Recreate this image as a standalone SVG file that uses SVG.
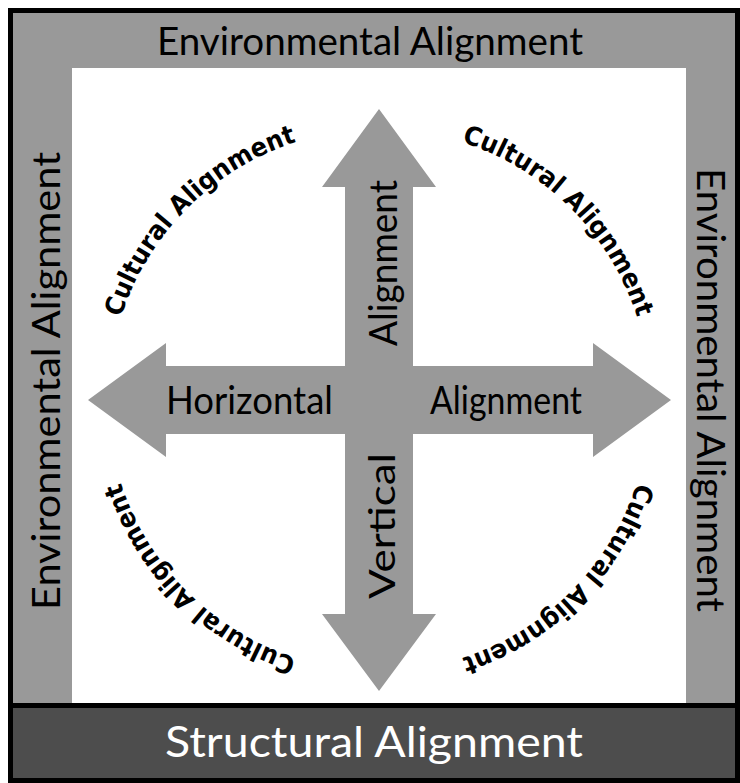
<svg xmlns="http://www.w3.org/2000/svg" xmlns:xlink="http://www.w3.org/1999/xlink" width="740" height="783" viewBox="0 0 740 783">
  <style>
    .lbl { font-family: Lato, "Liberation Sans", "DejaVu Sans", sans-serif; fill: #000; }
    .cult { font-family: "DejaVu Sans", Verdana, sans-serif; font-weight: bold; font-size: 26px; fill: #000; }
    .arrow { fill: #999999; }
  </style>
  <defs>
    <path id="circ" d="M 650,400 A 271,271 0 1 1 108,400 A 271,271 0 1 1 650,400"/>
  </defs>
  <g id="frame">
    <rect x="8" y="8" width="732" height="775" fill="#000"/>
    <rect x="13" y="13" width="722" height="690" fill="#999999"/>
    <rect x="13" y="708" width="722" height="70" fill="#4d4d4d"/>
    <rect x="72" y="68" width="614" height="635" fill="#fff"/>
  </g>
  <g id="environmental-top">
    <text class="lbl" x="370" y="55" font-size="38" text-anchor="middle" textLength="426" lengthAdjust="spacingAndGlyphs">Environmental Alignment</text>
  </g>
  <g id="environmental-left">
    <text class="lbl" transform="translate(60,381) rotate(-90)" font-size="39" text-anchor="middle" textLength="458" lengthAdjust="spacingAndGlyphs">Environmental Alignment</text>
  </g>
  <g id="environmental-right">
    <text class="lbl" transform="translate(697,390) rotate(90)" font-size="38" text-anchor="middle" textLength="444" lengthAdjust="spacingAndGlyphs">Environmental Alignment</text>
  </g>
  <g id="structural">
    <text class="lbl" x="374" y="757" font-size="42" text-anchor="middle" style="fill:#fff" textLength="418" lengthAdjust="spacingAndGlyphs">Structural Alignment</text>
  </g>
  <g id="connectors">
    <polygon id="vertical-arrow" class="arrow" points="379,109 436,187 413,187 413,614 436,614 379,691 322,614 345,614 345,187 322,187"/>
    <polygon id="horizontal-arrow" class="arrow" points="88,400 166,343 166,366 593,366 593,343 671,400 593,457 593,434 166,434 166,457"/>
  </g>
  <g id="horizontal-label">
    <text class="lbl" x="249.5" y="414" font-size="38" text-anchor="middle" textLength="167" lengthAdjust="spacingAndGlyphs">Horizontal</text>
    <text class="lbl" x="506" y="414" font-size="38" text-anchor="middle" textLength="152" lengthAdjust="spacingAndGlyphs">Alignment</text>
  </g>
  <g id="vertical-label">
    <text class="lbl" transform="translate(397,263) rotate(-90)" font-size="38" text-anchor="middle" textLength="166" lengthAdjust="spacingAndGlyphs">Alignment</text>
    <text class="lbl" transform="translate(395,526) rotate(-90)" font-size="36" text-anchor="middle" textLength="146" lengthAdjust="spacingAndGlyphs">Vertical</text>
  </g>
  <g id="cultural">
    <text class="cult" text-anchor="middle"><textPath href="#circ" xlink:href="#circ" startOffset="12.5%" textLength="258" lengthAdjust="spacingAndGlyphs">Cultural Alignment</textPath></text>
    <text class="cult" text-anchor="middle"><textPath href="#circ" xlink:href="#circ" startOffset="37.5%" textLength="258" lengthAdjust="spacingAndGlyphs">Cultural Alignment</textPath></text>
    <text class="cult" text-anchor="middle"><textPath href="#circ" xlink:href="#circ" startOffset="62.5%" textLength="258" lengthAdjust="spacingAndGlyphs">Cultural Alignment</textPath></text>
    <text class="cult" text-anchor="middle"><textPath href="#circ" xlink:href="#circ" startOffset="87.5%" textLength="258" lengthAdjust="spacingAndGlyphs">Cultural Alignment</textPath></text>
  </g>
</svg>
